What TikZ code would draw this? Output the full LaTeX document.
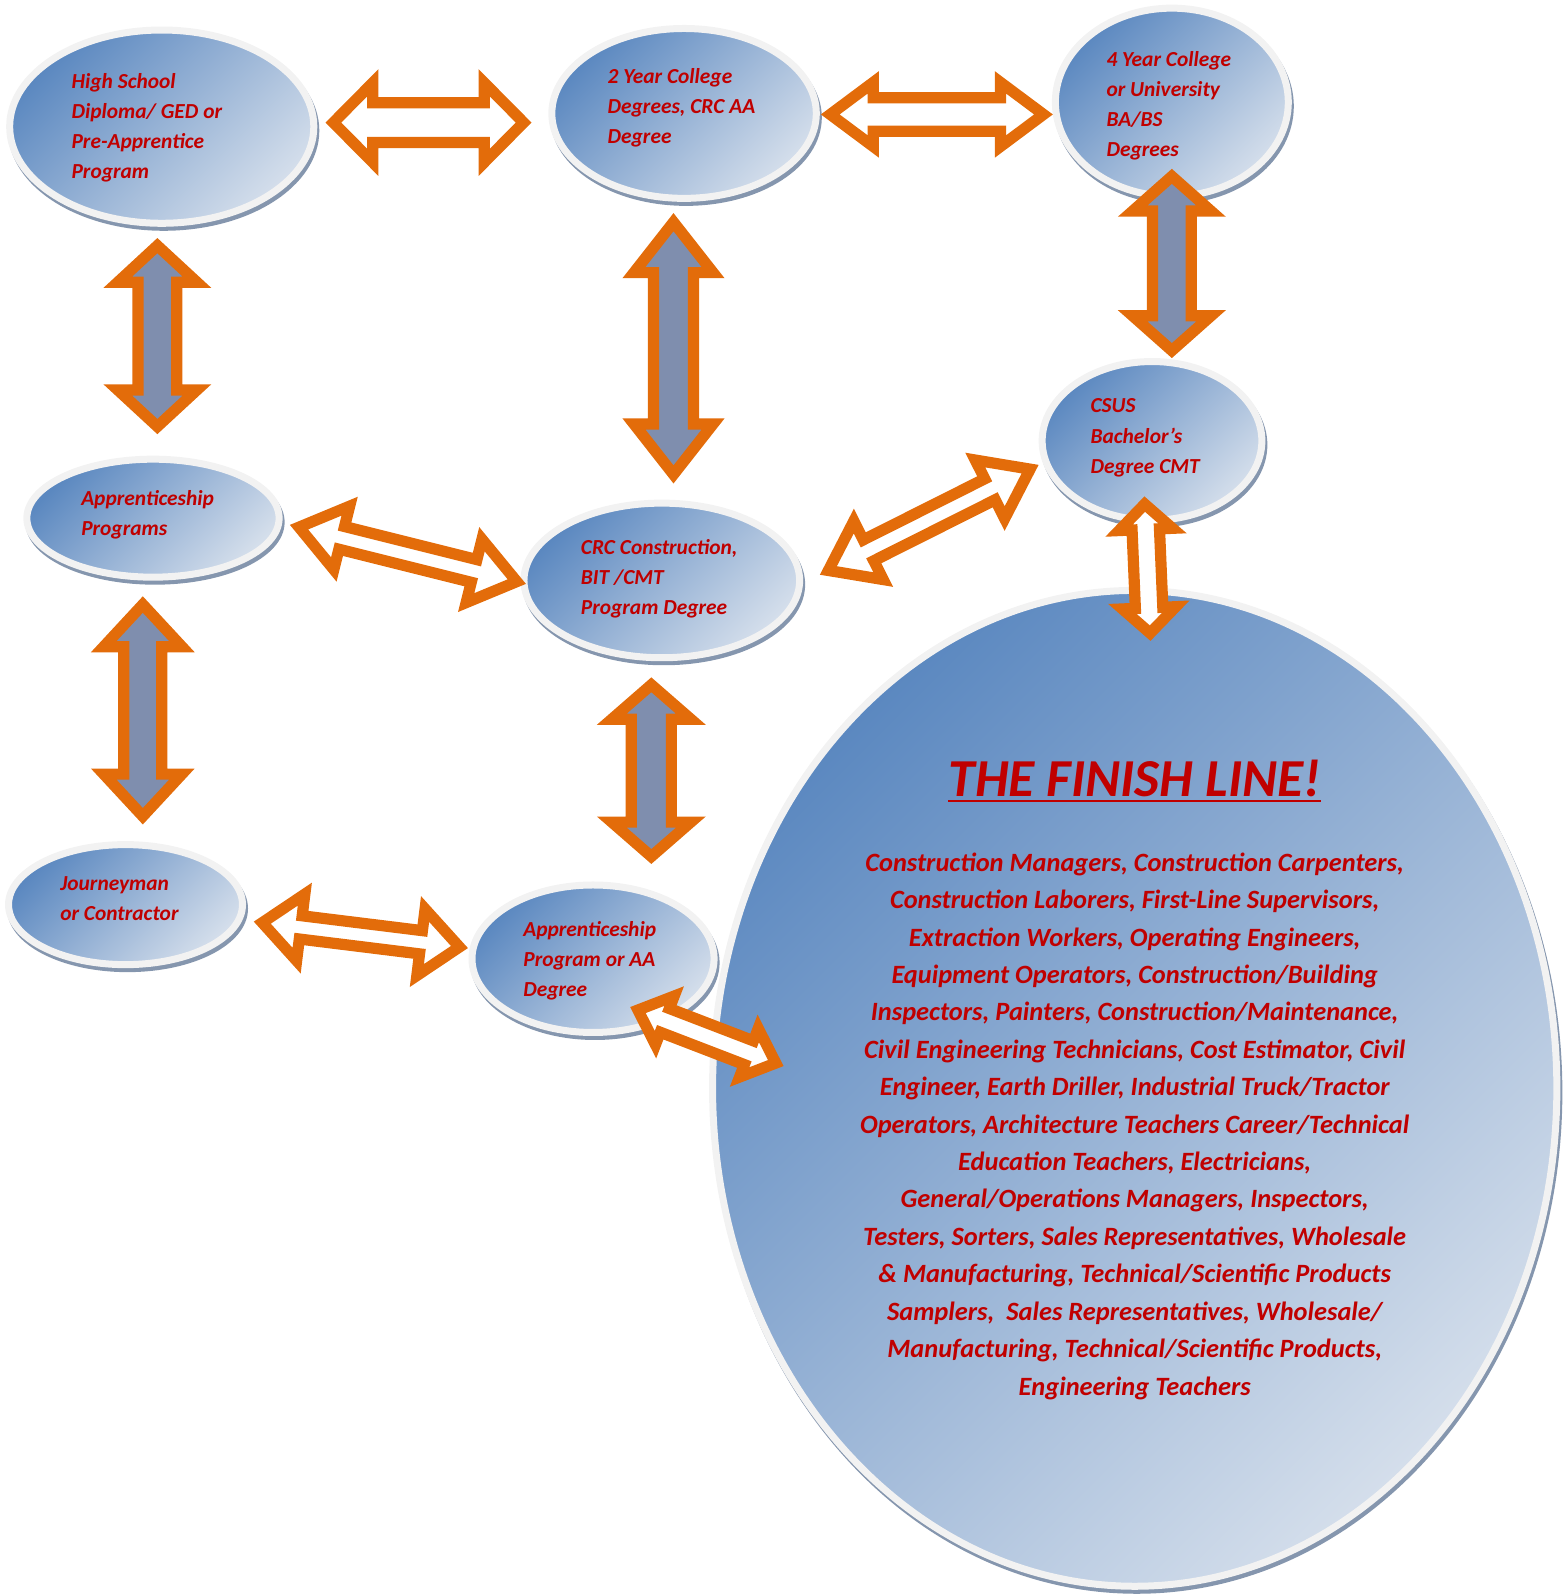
\documentclass[tikz,border=0pt]{standalone}
\usepackage{fontspec}
\setmainfont{Carlito}
\usetikzlibrary{calc,shapes.geometric,shadows}
\definecolor{txtred}{HTML}{C00000}
\definecolor{arrorange}{HTML}{E36C0A}
\definecolor{arrgray}{HTML}{7F8EAE}
\definecolor{elldark}{HTML}{5B88C0}
\definecolor{elllight}{HTML}{D4DEEB}
\definecolor{ellring}{HTML}{F2F2F2}
\definecolor{ellshadow}{HTML}{8596AE}
\newcommand\arrtw{11}
\newcommand\unitf{1.01693}
% #1 tip coordinate, #2 other tip coordinate, #3 head length, #4 head half width, #5 shaft half width, #6 fill
\newcommand\dblarrow[6]{%
  \pgfmathsetmacro\arL{sqrt((#3)*(#3)+(#4)*(#4))}%
  \pgfmathsetmacro\ard{(\arrtw/2)*\arL/(#4)*\unitf}%
  \pgfmathsetmacro\arhl{(#3)-\arrtw/2-(\arrtw/2)*\arL/(#4)}%
  \pgfmathsetmacro\arhw{(#4)*\arhl/(#3)*\unitf}%
  \pgfmathsetmacro\arhlp{\arhl*\unitf}%
  \pgfmathsetmacro\arsw{((#5)-\arrtw/2)*\unitf}%
  \coordinate (#1-m) at ($(#1)!\ard pt!(#2)$);%
  \coordinate (#2-m) at ($(#2)!\ard pt!(#1)$);%
  \path[arrowline, fill=#6] (#1-m)
    -- ($(#1-m)!\arhlp pt!(#2-m)!\arhw pt!90:(#2-m)$)
    -- ($(#1-m)!\arhlp pt!(#2-m)!\arsw pt!90:(#2-m)$)
    -- ($(#2-m)!\arhlp pt!(#1-m)!\arsw pt!-90:(#1-m)$)
    -- ($(#2-m)!\arhlp pt!(#1-m)!\arhw pt!-90:(#1-m)$)
    -- (#2-m)
    -- ($(#2-m)!\arhlp pt!(#1-m)!\arhw pt!90:(#1-m)$)
    -- ($(#2-m)!\arhlp pt!(#1-m)!\arsw pt!90:(#1-m)$)
    -- ($(#1-m)!\arhlp pt!(#2-m)!\arsw pt!-90:(#2-m)$)
    -- ($(#1-m)!\arhlp pt!(#2-m)!\arhw pt!-90:(#2-m)$)
    -- cycle;%
}
\begin{document}
\begin{tikzpicture}[x=1.01693pt,y=-1.01693pt,
  bubble/.style={ellipse, draw=ellring, line width=7pt, top color=elldark, bottom color=elllight,
    shading angle=45, inner sep=0pt,
    general shadow={shadow xshift=2pt, shadow yshift=-4pt, draw=ellshadow, fill=ellshadow, line width=7pt}},
  sz/.style 2 args={minimum width=#1*1.01693pt, minimum height=#2*1.01693pt},
  lbl/.style={anchor=base west, inner sep=0pt, text=txtred, font=\fontsize{21.4}{30}\selectfont\bfseries\itshape},
  arrowline/.style={draw=arrorange, line width=11.2pt, line join=miter}]
\useasboundingbox (0,0) rectangle (1536,1568);

% ellipses
\node[bubble, sz={299}{190}] (hs) at (159,124.5) {};
\node[bubble, sz={260}{167}] (y2) at (672.5,111.5) {};
\node[bubble, sz={229}{185}] (y4) at (1152,100.5) {};
\node[bubble, sz={216}{156}] (csus) at (1132.5,433.4) {};
\node[bubble, sz={248}{116}] (app) at (150.4,509.4) {};
\node[bubble, sz={271}{152}] (crc) at (650.6,570.6) {};
\node[bubble, sz={230}{118}] (jour) at (123.4,889.3) {};
\node[bubble, sz={238}{145}] (appaa) at (583,942.5) {};
\node[bubble, sz={830}{979}] (fin) at (1115.5,1069.9) {};

% arrow end points
\coordinate (h1a) at (320,120.5);   \coordinate (h1b) at (522.5,120.5);
\coordinate (h2a) at (807,112.5);   \coordinate (h2b) at (1035,112.5);
\coordinate (v1a) at (154.7,234);   \coordinate (v1b) at (154.7,426.8);
\coordinate (v2a) at (662.1,209.5); \coordinate (v2b) at (662.1,475.3);
\coordinate (v3a) at (1152,166);    \coordinate (v3b) at (1152,352);
\coordinate (v4a) at (1125,488);    \coordinate (v4b) at (1131,630);
\coordinate (v5a) at (640.3,665.9); \coordinate (v5b) at (640.3,849.3);
\coordinate (v6a) at (140.4,586.2); \coordinate (v6b) at (140.4,810.5);
\coordinate (d1a) at (285,516);     \coordinate (d1b) at (517,574);
\coordinate (d2a) at (806,565);     \coordinate (d2b) at (1021,457);
\coordinate (d3a) at (249.5,906);   \coordinate (d3b) at (460,932);
\coordinate (d4a) at (619.5,990);   \coordinate (d4b) at (770.3,1048);

\dblarrow{h1a}{h1b}{52}{52.5}{25}{white}
\dblarrow{h2a}{h2b}{57}{42.5}{22}{white}
\dblarrow{v1a}{v1b}{49}{53}{24.6}{arrgray}
\dblarrow{v2a}{v2b}{64}{50.2}{25.1}{arrgray}
\dblarrow{v3a}{v3b}{47}{53}{24.5}{arrgray}
\dblarrow{v4a}{v4b}{38}{40}{19}{white}
\dblarrow{v5a}{v5b}{46.6}{53.5}{25.2}{arrgray}
\dblarrow{v6a}{v6b}{55}{51}{24.2}{arrgray}
\dblarrow{d1a}{d1b}{58}{43}{17}{white}
\dblarrow{d2a}{d2b}{59}{43}{17}{white}
\dblarrow{d3a}{d3b}{52}{45}{17}{white}
\dblarrow{d4a}{d4b}{42}{38}{18}{white}

% labels
\node[lbl] (hs-t) at (70.2,86.8) {\parbox[t]{250pt}{\raggedright High School\\Diploma/ GED or\\Pre-Apprentice\\Program}};
\node[lbl] (y2-t) at (597.2,81.9) {\parbox[t]{250pt}{\raggedright 2 Year College\\Degrees, CRC AA\\Degree}};
\node[lbl] (y4-t) at (1087.6,65) {\parbox[t]{250pt}{\raggedright 4 Year College\\or University\\BA/BS\\Degrees}};
\node[lbl] (csus-t) at (1071.9,406) {\parbox[t]{250pt}{\raggedright CSUS\\Bachelor’s\\Degree CMT}};
\node[lbl] (app-t) at (79.7,496.8) {\parbox[t]{250pt}{\raggedright Apprenticeship\\Programs}};
\node[lbl] (crc-t) at (570.9,545.4) {\parbox[t]{250pt}{\raggedright CRC Construction,\\BIT /CMT\\Program Degree}};
\node[lbl] (jour-t) at (59.1,875.8) {\parbox[t]{250pt}{\raggedright Journeyman\\or Contractor}};
\node[lbl] (appaa-t) at (514.3,920.5) {\parbox[t]{250pt}{\raggedright Apprenticeship\\Program or AA\\Degree}};

\node[anchor=base, inner sep=0pt, text=txtred, font=\fontsize{53.4}{60}\selectfont\bfseries\itshape] (title) at (1115.5,783.4) {THE FINISH LINE!};
\draw[txtred, line width=2pt] ([yshift=-4.4pt]title.base west) -- ([yshift=-4.4pt]title.base east);

\node[anchor=base, inner sep=0pt, text=txtred, font=\fontsize{26.4}{37.4}\selectfont\bfseries\itshape] (fin-t) at (1115.5,856.5) {\parbox[t]{640pt}{\centering
Construction Managers, Construction Carpenters,\\
Construction Laborers, First-Line Supervisors,\\
Extraction Workers, Operating Engineers,\\
Equipment Operators, Construction/Building\\
Inspectors, Painters, Construction/Maintenance,\\
Civil Engineering Technicians, Cost Estimator, Civil\\
Engineer, Earth Driller, Industrial Truck/Tractor\\
Operators, Architecture Teachers Career/Technical\\
Education Teachers, Electricians,\\
General/Operations Managers, Inspectors,\\
Testers, Sorters, Sales Representatives, Wholesale\\
\& Manufacturing, Technical/Scientific Products\\
Samplers,\ \ Sales Representatives, Wholesale/\\
Manufacturing, Technical/Scientific Products,\\
Engineering Teachers}};
\end{tikzpicture}
\end{document}
